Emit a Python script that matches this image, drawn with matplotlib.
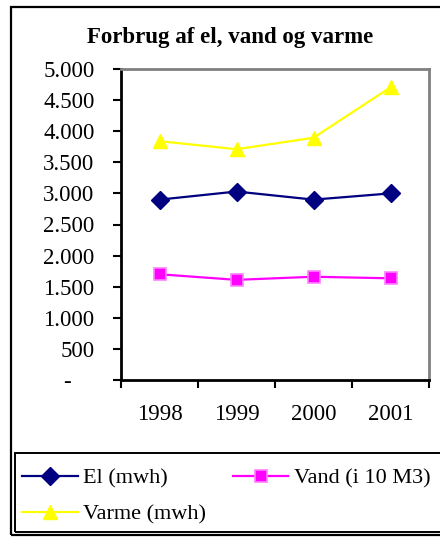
import matplotlib.pyplot as plt
from matplotlib.patches import Rectangle
from matplotlib.ticker import FuncFormatter

years = ['1998', '1999', '2000', '2001']
el = [2900, 3030, 2900, 3000]
vand = [1700, 1610, 1660, 1635]
varme = [3840, 3710, 3895, 4705]

plt.rcParams['font.family'] = ['Liberation Serif', 'DejaVu Serif']

W, H = 440, 537
fig = plt.figure(figsize=(W / 100, H / 100), dpi=100)

# outer chart frame (right edge cut off like the original)
fig.patches.append(Rectangle((11 / W, 1 - 535 / H), 1.0, (535 - 7) / H,
                             transform=fig.transFigure, fill=False,
                             edgecolor='black', linewidth=1.6))
# legend frame
fig.patches.append(Rectangle((15 / W, 1 - 532 / H), 1.0, (532 - 453) / H,
                             transform=fig.transFigure, fill=False,
                             edgecolor='black', linewidth=1.4))

ax = fig.add_axes([121 / W, 1 - 380 / H, (429 - 121) / W, (380 - 69) / H])

x = range(len(years))
l1, = ax.plot(x, el, color='#000080', lw=1.6, marker='D', markersize=9,
              label='El (mwh)')
l2, = ax.plot(x, vand, color='#FF00FF', lw=1.6, marker='s', markersize=8,
              markeredgecolor='#FF80FF', markeredgewidth=1.2,
              label='Vand (i 10 M3)')
l3, = ax.plot(x, varme, color='#FFFF00', lw=1.6, marker='^', markersize=10,
              label='Varme (mwh)')

ax.set_xlim(-0.5, 3.5)
ax.set_ylim(0, 5000)
ax.set_yticks(range(0, 5001, 500))
ax.yaxis.set_major_formatter(FuncFormatter(
    lambda v, p: '-    ' if v == 0 else f'{int(v):,}'.replace(',', '.')))
ax.set_xticks([-0.5, 0.5, 1.5, 2.5, 3.5])
ax.set_xticklabels([])
ax.set_xticks(list(x), minor=True)
ax.set_xticklabels(years, minor=True)
ax.tick_params(axis='x', which='minor', length=0, pad=17, labelsize=16.5)
ax.tick_params(axis='x', which='major', length=6, width=1.5, direction='out')
ax.tick_params(axis='y', length=6, width=1.5, labelsize=16.5, pad=13)

for s in ['left', 'bottom']:
    ax.spines[s].set_linewidth(2)
    ax.spines[s].set_color('black')
for s in ['top', 'right']:
    ax.spines[s].set_linewidth(2)
    ax.spines[s].set_color('#808080')

fig.text(230.5 / W, 1 - 37.5 / H, 'Forbrug af el, vand og varme', ha='center',
         va='center', fontsize=16.5, fontweight='bold')

fig.legend([l1, l3, l2], ['El (mwh)', 'Varme (mwh)', 'Vand (i 10 M3)'],
           ncol=2, loc='upper left', bbox_to_anchor=(22 / W, 1 - 468 / H),
           frameon=False, fontsize=16, handlelength=2.5, handletextpad=0.25,
           columnspacing=1.2, borderaxespad=0, borderpad=0, labelspacing=0.7)

fig.savefig('out.png', dpi=100)
